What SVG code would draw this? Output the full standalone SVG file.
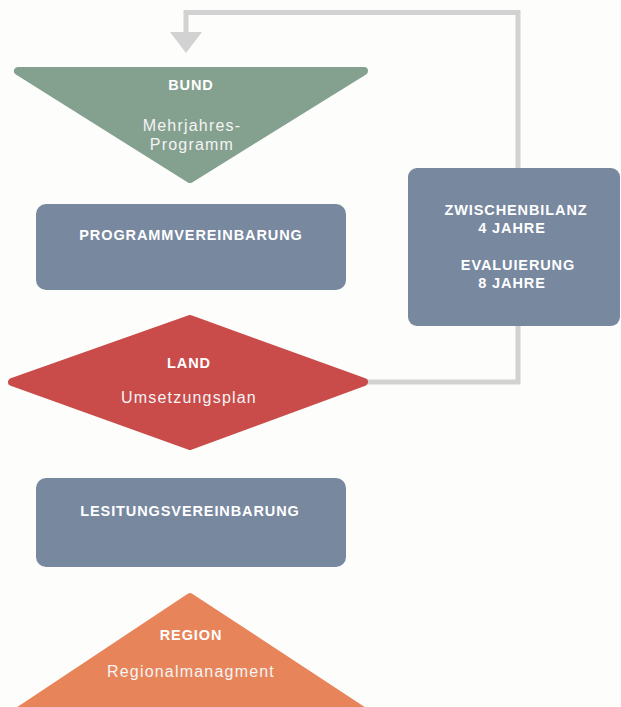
<svg xmlns="http://www.w3.org/2000/svg" width="621" height="707" viewBox="0 0 621 707">
<style>
.conn{fill:none;stroke:#d2d2d2;stroke-width:5}
.box{fill:#77889f}
.shape{stroke-linejoin:round;stroke-width:8}
.b{font-family:"Liberation Sans",Arial,sans-serif;font-weight:bold;font-size:14.5px;fill:#ffffff;text-anchor:middle;letter-spacing:0.9px}
.r{font-family:"Liberation Sans",Arial,sans-serif;font-size:16px;fill:#f4f4f4;text-anchor:middle;letter-spacing:1.2px}
</style>
<rect width="621" height="707" fill="#fdfdfb"/>
<g id="connectors">
<path class="conn" d="M518 168 V12.5 H186 V34"/>
<polygon points="170,32 202,32 186,53" fill="#d2d2d2"/>
<path class="conn" d="M360 382 H518 V326"/>
</g>
<g id="bund">
<polygon class="shape" points="18,71 364,71 190,179" fill="#84a08f" stroke="#84a08f"/>
<text class="b" x="191" y="90">BUND</text>
<text class="r" x="192" y="131">Mehrjahres-</text>
<text class="r" x="192" y="150">Programm</text>
</g>
<g id="programmvereinbarung">
<rect class="box" x="36" y="204" width="310" height="86" rx="10"/>
<text class="b" x="191" y="240">PROGRAMMVEREINBARUNG</text>
</g>
<g id="zwischenbilanz">
<rect class="box" x="408" y="168" width="212" height="158" rx="9"/>
<text class="b" x="516" y="215">ZWISCHENBILANZ</text>
<text class="b" x="512" y="233">4 JAHRE</text>
<text class="b" x="518" y="270">EVALUIERUNG</text>
<text class="b" x="512" y="288">8 JAHRE</text>
</g>
<g id="land">
<polygon class="shape" points="12,382 190,319 364,382 190,446" fill="#c94b4a" stroke="#c94b4a"/>
<text class="b" x="189" y="368">LAND</text>
<text class="r" x="189" y="403">Umsetzungsplan</text>
</g>
<g id="leistungsvereinbarung">
<rect class="box" x="36" y="478" width="310" height="89" rx="10"/>
<text class="b" x="190" y="516">LESITUNGSVEREINBARUNG</text>
</g>
<g id="region">
<polygon class="shape" points="190,597 365,712 17,712" fill="#e8845a" stroke="#e8845a"/>
<text class="b" x="191" y="640">REGION</text>
<text class="r" x="191" y="677">Regionalmanagment</text>
</g>
</svg>
